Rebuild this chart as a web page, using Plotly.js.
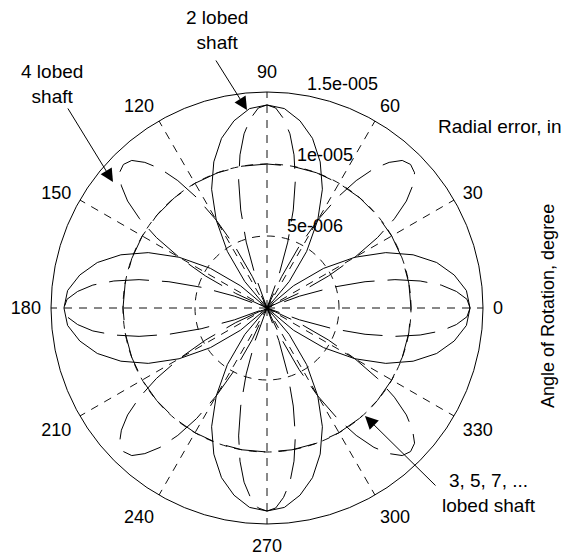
<!DOCTYPE html>
<html>
<head>
<meta charset="utf-8">
<script src="https://cdn.plot.ly/plotly-3.0.1.min.js"></script>
<style>html,body{margin:0;padding:0;background:#fff;}#chart{width:567px;height:556px;}</style>
</head>
<body>
<div id="chart"></div>
<script>
// Radial error values in units of 1e-6 in (micro-inch), angles in degrees
const thetaTwoLobe = [
0,5,10,15,20,25,30,35,40,45,50,55,60,65,70,75,80,85,
90,95,100,105,110,115,120,125,130,135,140,145,150,155,160,165,170,175,
180,185,190,195,200,205,210,215,220,225,230,235,240,245,250,255,260,265,
270,275,280,285,290,295,300,305,310,315,320,325,330,335,340,345,350,355,
360];
const rTwoLobe = [
14.1,13.9,13.2,12.2,10.8,9.1,7.05,4.8,2.4,0,2.4,4.8,7.05,9.1,10.8,12.2,13.2,13.9,
14.1,13.9,13.2,12.2,10.8,9.1,7.05,4.8,2.4,0,2.4,4.8,7.05,9.1,10.8,12.2,13.2,13.9,
14.1,13.9,13.2,12.2,10.8,9.1,7.05,4.8,2.4,0,2.4,4.8,7.05,9.1,10.8,12.2,13.2,13.9,
14.1,13.9,13.2,12.2,10.8,9.1,7.05,4.8,2.4,0,2.4,4.8,7.05,9.1,10.8,12.2,13.2,13.9,
14.1];

const thetaFourLobe = [
0,2.5,5,7.5,10,12.5,15,17.5,20,22.5,25,27.5,30,32.5,35,37.5,40,42.5,
45,47.5,50,52.5,55,57.5,60,62.5,65,67.5,70,72.5,75,77.5,80,82.5,85,87.5,
90,92.5,95,97.5,100,102.5,105,107.5,110,112.5,115,117.5,120,122.5,125,127.5,130,132.5,
135,137.5,140,142.5,145,147.5,150,152.5,155,157.5,160,162.5,165,167.5,170,172.5,175,177.5,
180,182.5,185,187.5,190,192.5,195,197.5,200,202.5,205,207.5,210,212.5,215,217.5,220,222.5,
225,227.5,230,232.5,235,237.5,240,242.5,245,247.5,250,252.5,255,257.5,260,262.5,265,267.5,
270,272.5,275,277.5,280,282.5,285,287.5,290,292.5,295,297.5,300,302.5,305,307.5,310,312.5,
315,317.5,320,322.5,325,327.5,330,332.5,335,337.5,340,342.5,345,347.5,350,352.5,355,357.5,
360];
const rFourLobe = [
14.1,13.9,13.2,12.2,10.8,9.1,7.05,4.8,2.4,0,2.4,4.8,7.05,9.1,10.8,12.2,13.2,13.9,
14.1,13.9,13.2,12.2,10.8,9.1,7.05,4.8,2.4,0,2.4,4.8,7.05,9.1,10.8,12.2,13.2,13.9,
14.1,13.9,13.2,12.2,10.8,9.1,7.05,4.8,2.4,0,2.4,4.8,7.05,9.1,10.8,12.2,13.2,13.9,
14.1,13.9,13.2,12.2,10.8,9.1,7.05,4.8,2.4,0,2.4,4.8,7.05,9.1,10.8,12.2,13.2,13.9,
14.1,13.9,13.2,12.2,10.8,9.1,7.05,4.8,2.4,0,2.4,4.8,7.05,9.1,10.8,12.2,13.2,13.9,
14.1,13.9,13.2,12.2,10.8,9.1,7.05,4.8,2.4,0,2.4,4.8,7.05,9.1,10.8,12.2,13.2,13.9,
14.1,13.9,13.2,12.2,10.8,9.1,7.05,4.8,2.4,0,2.4,4.8,7.05,9.1,10.8,12.2,13.2,13.9,
14.1,13.9,13.2,12.2,10.8,9.1,7.05,4.8,2.4,0,2.4,4.8,7.05,9.1,10.8,12.2,13.2,13.9,
14.1];

const thetaOddLobe = [0,10,20,30,40,50,60,70,80,90,100,110,120,130,140,150,160,170,180,
190,200,210,220,230,240,250,260,270,280,290,300,310,320,330,340,350,360];
const rOddLobe = [10,10,10,10,10,10,10,10,10,10,10,10,10,10,10,10,10,10,10,
10,10,10,10,10,10,10,10,10,10,10,10,10,10,10,10,10,10];

const angleTicks = [0,30,60,90,120,150,180,210,240,270,300,330];
const angleTickLabels = ['0','30','60','90','120','150','180','210','240','270','300','330'];
const radialTicks = [5,10,15];
const radialTickLabels = ['5e-006','1e-005','1.5e-005'];
const radialLabelAngle = [82,82,82];

const FONT = 'Liberation Sans, Arial, Helvetica, sans-serif';
const ink = '#000';
const longDash = '40px,13px';
const pad = '\u00a0\u00a0';

const traces = [
  {type:'scatterpolar', mode:'lines', r:rTwoLobe, theta:thetaTwoLobe,
   line:{color:ink, width:1}, hoverinfo:'skip'},
  {type:'scatterpolar', mode:'lines', r:rFourLobe, theta:thetaFourLobe,
   line:{color:ink, width:1, dash:longDash}, hoverinfo:'skip'},
  {type:'scatterpolar', mode:'lines', r:rOddLobe, theta:thetaOddLobe,
   line:{color:ink, width:1, dash:longDash}, hoverinfo:'skip'},
  {type:'scatterpolar', mode:'text', r:radialTicks, theta:radialLabelAngle,
   text:radialTickLabels.map(t => pad + t), textposition:'top right', cliponaxis:false,
   textfont:{family:FONT, size:18, color:ink}, hoverinfo:'skip'}
];

const W = 432, L = 51, B = 32;
function px(x){ return (x - L)/W; }
function py(y){ return (556 - B - y)/W; }

const annotations = [
  {text:'2 lobed<br>shaft', x:px(217), y:py(30)},
  {text:'4 lobed<br>shaft', x:px(52), y:py(84)},
  {text:'3, 5, 7, ...<br>lobed shaft', x:px(489), y:py(493)},
  {text:'Radial error, in', x:px(500), y:py(126)},
  {text:'Angle of Rotation, degree', x:px(548), y:py(306), textangle:-90, size:18}
].map(a => Object.assign({xref:'paper', yref:'paper', showarrow:false,
   xanchor:'center', yanchor:'middle', font:{family:FONT, size:a.size || 19, color:ink}}, a));
annotations.forEach(a => { delete a.size; });

const arrows = [
  {x:px(247), y:py(110), ax:-32, ay:-51},
  {x:px(113), y:py(182), ax:-46, ay:-75},
  {x:px(365), y:py(416), ax:72, ay:71}
].map(a => Object.assign({xref:'paper', yref:'paper', text:'', showarrow:true,
   arrowhead:2, arrowsize:2.6, arrowwidth:1, arrowcolor:ink, standoff:0, startstandoff:0}, a));

const layout = {
  width:567, height:556,
  margin:{l:L, r:567-L-W, t:556-B-W, b:B},
  paper_bgcolor:'#fff',
  showlegend:false,
  font:{family:FONT, size:18, color:ink},
  polar:{
    domain:{x:[0,1], y:[0,1]},
    bgcolor:'#fff',
    angularaxis:{
      rotation:0, direction:'counterclockwise',
      tickmode:'array', tickvals:angleTicks, ticktext:angleTickLabels,
      showline:true, linecolor:ink, linewidth:1,
      showgrid:true, gridcolor:'#111', gridwidth:1, griddash:'8px,7px',
      ticks:'outside', ticklen:6, tickcolor:'rgba(0,0,0,0)',
      tickfont:{family:FONT, size:18, color:ink}
    },
    radialaxis:{
      range:[0,15], tickmode:'array', tickvals:radialTicks,
      showticklabels:false, ticks:'', showline:false,
      showgrid:true, gridcolor:'#111', gridwidth:1, griddash:'8px,7px'
    }
  },
  annotations: annotations.concat(arrows)
};

Plotly.newPlot('chart', traces, layout, {staticPlot:true, displayModeBar:false});
</script>
</body>
</html>
